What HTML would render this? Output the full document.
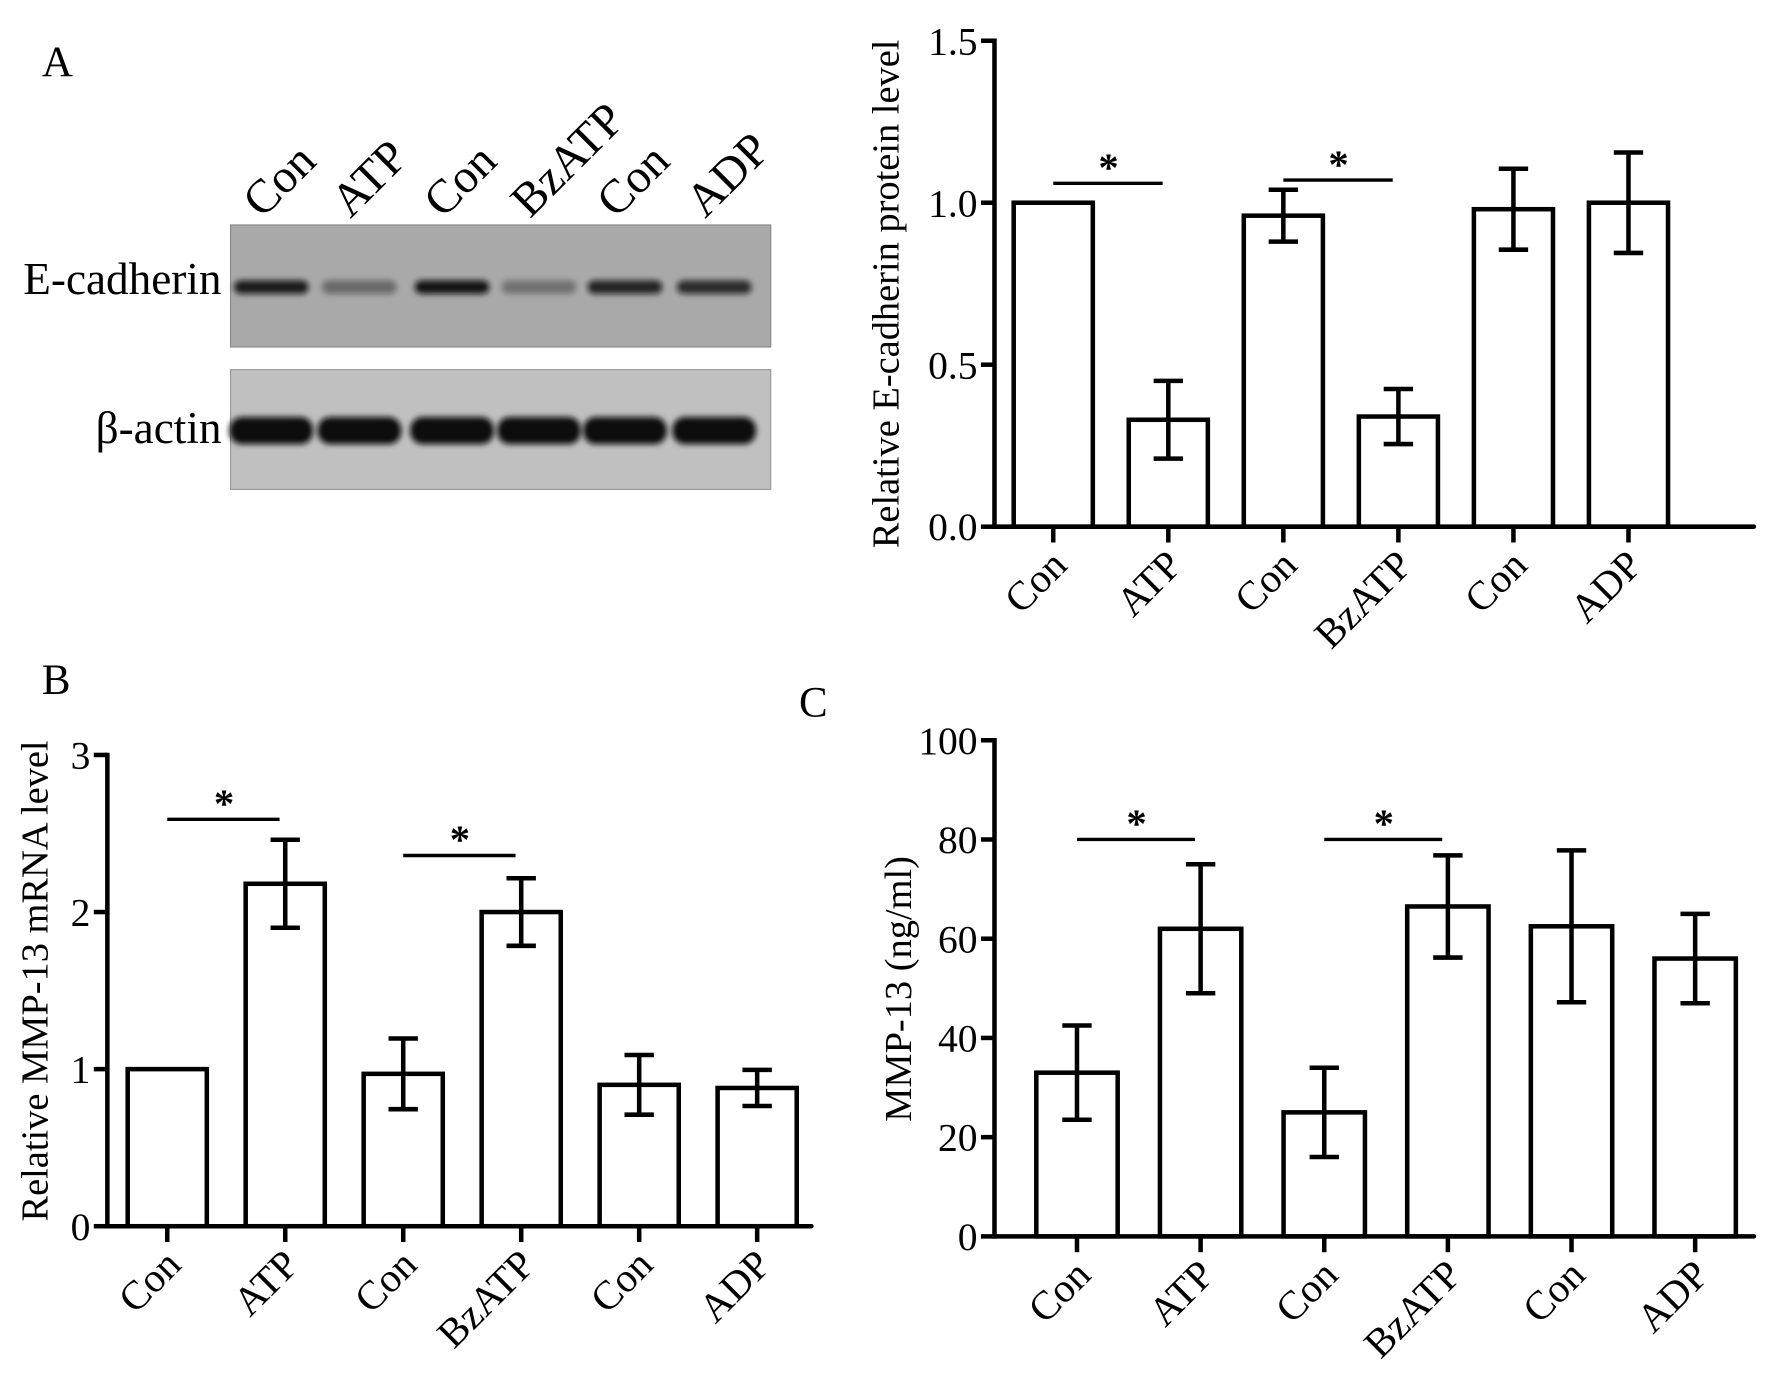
<!DOCTYPE html>
<html><head><meta charset="utf-8">
<style>
html,body{margin:0;padding:0;background:#fff;}
svg{display:block;}
text{font-family:"Liberation Serif","Times New Roman",serif;fill:#000;}
</style></head>
<body>
<svg id="fig" width="1772" height="1389" viewBox="0 0 1568 1229" xmlns="http://www.w3.org/2000/svg">
  <defs>
    <filter id="blur" x="-20%" y="-50%" width="140%" height="200%"><feGaussianBlur stdDeviation="2.5"/></filter>
  </defs>
  <text x="37" y="67" font-size="38" font-family="Liberation Serif">A</text>
  <text x="37" y="614" font-size="38" font-family="Liberation Serif">B</text>
  <text x="707" y="634" font-size="38" font-family="Liberation Serif">C</text>
  <g>
    <rect x="204" y="199" width="478" height="108" fill="#a9a9a9" stroke="#888"/>
    <rect x="204" y="327" width="478" height="106" fill="#c0c0c0" stroke="#999"/>
    <text x="196" y="260" font-size="40" font-family="Liberation Serif" text-anchor="end">E-cadherin</text>
    <text x="196" y="392" font-size="40" font-family="Liberation Serif" text-anchor="end">β-actin</text>
    <g id="lanes"></g>
  </g>
  <g id="chartA"></g>
  <g id="chartB"></g>
  <g id="chartC"></g>
</svg>
<script>
const categories = ["Con","ATP","Con","BzATP","Con","ADP"];
// Panel A
const aValues = [1.0, 0.33, 0.96, 0.34, 0.98, 1.0];
const aErrors = [0, 0.12, 0.08, 0.085, 0.125, 0.155];
const aTicks = [0, 0.5, 1.0, 1.5];
const aTickLabels = ["0.0","0.5","1.0","1.5"];
const aSig = [[0,1,1.06],[2,3,1.07]];
// Panel B
const bValues = [1.0, 2.18, 0.97, 2.0, 0.9, 0.88];
const bErrors = [0, 0.28, 0.225, 0.215, 0.19, 0.115];
const bTicks = [0,1,2,3];
const bTickLabels = ["0","1","2","3"];
const bSig = [[0,1,2.59],[2,3,2.36]];
// Panel C
const cValues = [33, 62, 25, 66.5, 62.5, 56];
const cErrors = [9.5, 13, 9, 10.3, 15.3, 9];
const cTicks = [0,20,40,60,80,100];
const cTickLabels = ["0","20","40","60","80","100"];
const cSig = [[0,1,80],[2,3,80]];
// Blot band intensities (E-cadherin) per lane
const blotEcad = [0.9, 0.4, 0.95, 0.35, 0.85, 0.8];

const NS = "http://www.w3.org/2000/svg";
function el(parent, tag, attrs, txt){
  const e = document.createElementNS(NS, tag);
  for (const k in attrs) e.setAttribute(k, attrs[k]);
  if (txt !== undefined) e.textContent = txt;
  parent.appendChild(e);
  return e;
}

// Blot lanes
const lanes = document.getElementById('lanes');
const laneX = [240, 318, 400, 477, 553, 632];
categories.forEach((c,i)=>{
  const x = laneX[i];
  const b = el(lanes,'rect',{x:x-33,y:248,width:66,height:12,rx:6,fill:'#111',opacity:blotEcad[i],filter:'url(#blur)'});
  
  
  const a = el(lanes,'rect',{x:x-37,y:369,width:74,height:24,rx:11,fill:'#0a0a0a',filter:'url(#blur)'});
  
  
  const t = el(lanes,'text',{x:x-8,y:194,'font-size':42,'font-family':'Liberation Serif',transform:`rotate(-45 ${x-8} 194)`},c);
  
  
});

function chart(gid, cfg){
  const g = document.getElementById(gid);
  const {x0,x1,y0,yTop,vMax,ticks,tickLabels,values,errors,sig,centers,bw,ylabel,ylx,yly,ylsize} = cfg;
  const ys = v => y0 - (v/vMax)*(y0-yTop);
  const xs = i => centers[0] + i*(centers[centers.length-1]-centers[0])/(categories.length-1);
  values.forEach((v,i)=>{
    const r = el(g,'rect',{x:xs(i)-bw/2,y:ys(v),width:bw,height:y0-ys(v),fill:'#fff',stroke:'#000','stroke-width':4});
    
    
    if (errors[i]>0){
      const eg = el(g,'g',{stroke:'#000','stroke-width':4});
      
      
      el(eg,'line',{x1:xs(i),x2:xs(i),y1:ys(v-errors[i]),y2:ys(v+errors[i])});
      el(eg,'line',{x1:xs(i)-13,x2:xs(i)+13,y1:ys(v-errors[i]),y2:ys(v-errors[i])});
      el(eg,'line',{x1:xs(i)-13,x2:xs(i)+13,y1:ys(v+errors[i]),y2:ys(v+errors[i])});
    }
  });
  const ya = el(g,'line',{x1:x0,x2:x0,y1:yTop-2,y2:y0+2,stroke:'#000','stroke-width':4});
  
  
  const xa = el(g,'line',{x1:x0-2,x2:x1,y1:y0,y2:y0,stroke:'#000','stroke-width':4,'stroke-linecap':'round'});
  
  
  ticks.forEach((t,i)=>{
    el(g,'line',{x1:x0-12,x2:x0,y1:ys(t),y2:ys(t),stroke:'#000','stroke-width':4});
    const tl = el(g,'text',{x:x0-15,y:ys(t)+12,'font-size':35,'font-family':'Liberation Serif','text-anchor':'end'},tickLabels[i]);
    
    
  });
  categories.forEach((c,i)=>{
    el(g,'line',{x1:xs(i),x2:xs(i),y1:y0,y2:y0+14,stroke:'#000','stroke-width':4});
    const tx = xs(i)+14, ty = y0+36;
    const tl = el(g,'text',{x:tx,y:ty,'font-size':36,'font-family':'Liberation Serif','text-anchor':'end',transform:`rotate(-45 ${tx} ${ty})`},c);
    
    
  });
  sig.forEach(s=>{
    const y = ys(s[2]);
    const l = el(g,'line',{x1:xs(s[0]),x2:xs(s[1])-5,y1:y,y2:y,stroke:'#000','stroke-width':3});
    
    
    const st = el(g,'text',{x:(xs(s[0])+xs(s[1]))/2-2,y:y-2,'font-size':36,'font-weight':'bold','text-anchor':'middle'},'*');
    
    
  });
  const yl = el(g,'text',{x:ylx,y:yly,'font-size':ylsize,'font-family':'Liberation Serif','text-anchor':'middle',transform:`rotate(-90 ${ylx} ${yly})`},ylabel);
  
  
}

chart('chartA',{x0:880,x1:1552,y0:466,yTop:36,vMax:1.5,ticks:aTicks,tickLabels:aTickLabels,values:aValues,errors:aErrors,sig:aSig,centers:[932,1441],bw:70,ylabel:"Relative E-cadherin protein level",ylx:795,yly:260,ylsize:34});
chart('chartB',{x0:95,x1:718,y0:1085,yTop:668,vMax:3,ticks:bTicks,tickLabels:bTickLabels,values:bValues,errors:bErrors,sig:bSig,centers:[148,670],bw:70,ylabel:"Relative  MMP-13 mRNA level",ylx:42,yly:868,ylsize:34});
chart('chartC',{x0:880,x1:1552,y0:1094,yTop:655,vMax:100,ticks:cTicks,tickLabels:cTickLabels,values:cValues,errors:cErrors,sig:cSig,centers:[953,1500],bw:72,ylabel:"MMP-13 (ng/ml)",ylx:806,yly:875,ylsize:34});
</script>
</body></html>
